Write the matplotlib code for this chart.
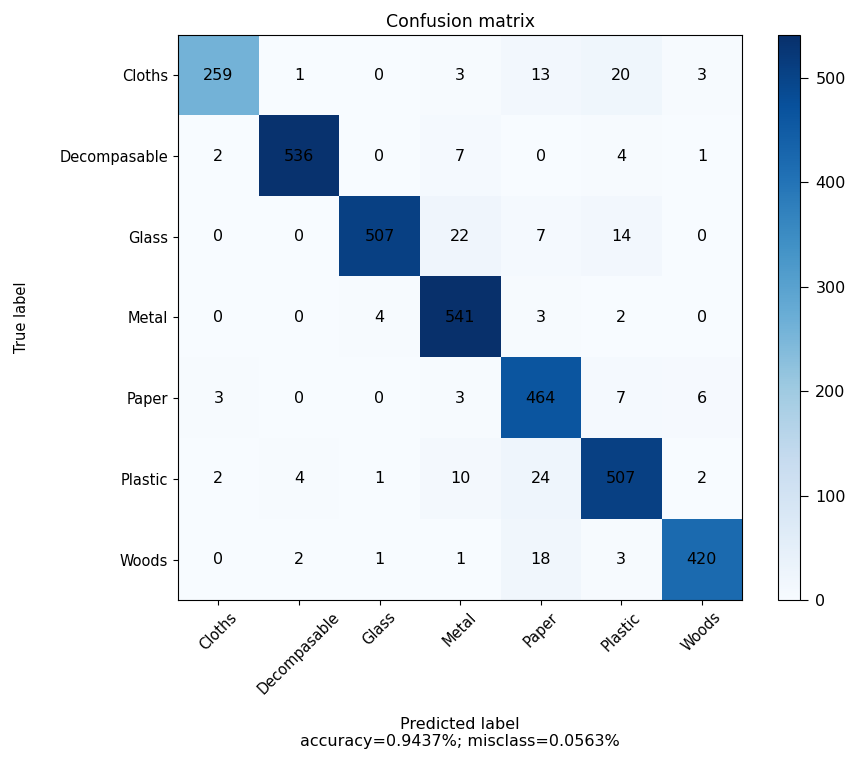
import numpy as np
import matplotlib
matplotlib.use("Agg")
import matplotlib.pyplot as plt

classes = ["Cloths", "Decompasable", "Glass", "Metal", "Paper", "Plastic", "Woods"]
row_cloths = [259, 1, 0, 3, 13, 20, 3]
row_decomp = [2, 536, 0, 7, 0, 4, 1]
row_glass = [0, 0, 507, 22, 7, 14, 0]
row_metal = [0, 0, 4, 541, 3, 2, 0]
row_paper = [3, 0, 0, 3, 464, 7, 6]
row_plastic = [2, 4, 1, 10, 24, 507, 2]
row_woods = [0, 2, 1, 1, 18, 3, 420]
cbar_ticks = [0, 100, 200, 300, 400, 500]

cm = np.array([row_cloths, row_decomp, row_glass, row_metal, row_paper, row_plastic, row_woods])
accuracy = np.trace(cm) / cm.sum()
misclass = 1 - accuracy

fs = 11.5
tfs = 10.5
fig = plt.figure(figsize=(8.6, 7.62), dpi=100)
ax = fig.add_axes([0.207, 0.2126, 0.656, 0.7415])
cax = fig.add_axes([0.9047, 0.2126, 0.0256, 0.7415])

im = ax.imshow(cm, interpolation="nearest", cmap="Blues", aspect="auto")
ax.set_title("Confusion matrix", fontsize=fs + 1)
cb = fig.colorbar(im, cax=cax)
cb.set_ticks(cbar_ticks)
cb.ax.tick_params(labelsize=fs, length=6, pad=5)

ticks = np.arange(len(classes))
ax.set_xticks(ticks)
ax.set_xticklabels(classes, rotation=45, fontsize=tfs)
ax.set_yticks(ticks)
ax.set_yticklabels(classes, fontsize=tfs)

for i in range(cm.shape[0]):
    for j in range(cm.shape[1]):
        ax.text(j, i, "{:,}".format(cm[i, j]), ha="center", va="center",
                color="black", fontsize=fs)

ax.set_ylabel("True label", fontsize=tfs, labelpad=22)
ax.set_xlabel("Predicted label\naccuracy={:0.4f}%; misclass={:0.4f}%".format(accuracy, misclass),
              fontsize=fs, labelpad=14)

fig.savefig("out.png", dpi=100)
